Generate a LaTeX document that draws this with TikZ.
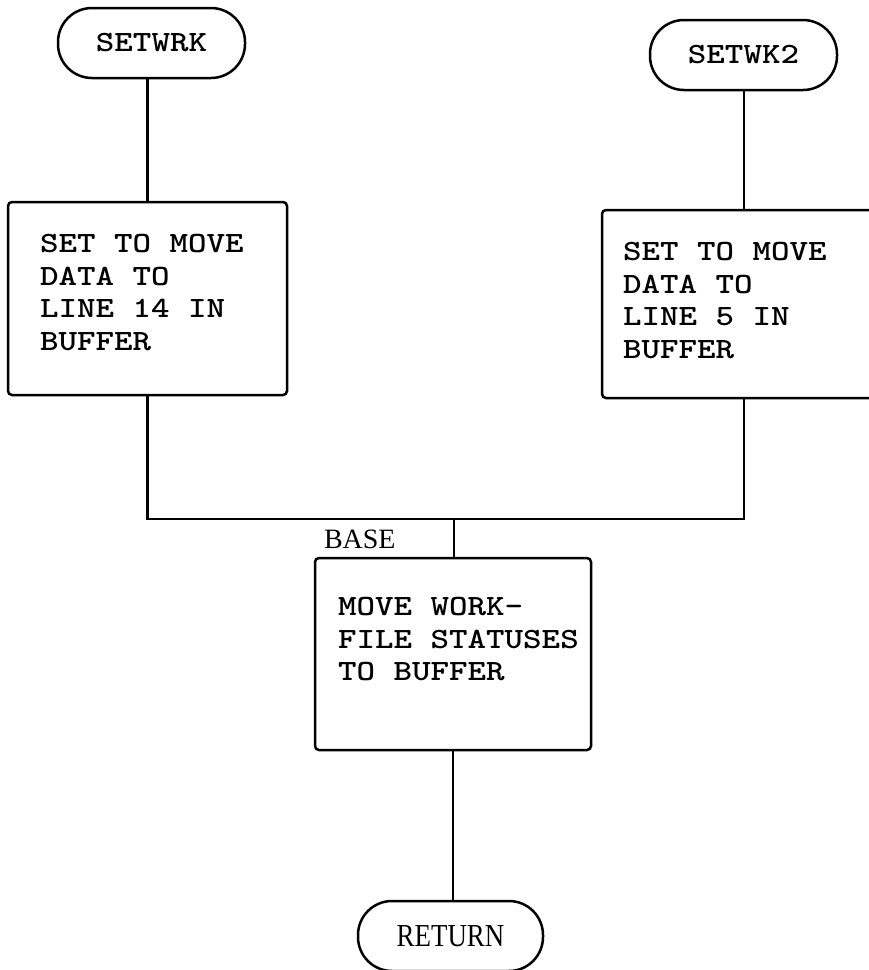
\documentclass[tikz,border=0pt]{standalone}
\usepackage{graphicx}
\usepackage{fontspec}
\newfontfamily\seriffnt{Liberation Serif}
\newcommand{\twfont}{\ttfamily\bfseries\fontsize{29.4}{32.8}\selectfont}
\newcommand{\tw}[1]{\scalebox{1.2}[1]{#1}}
\begin{document}
\begin{tikzpicture}[x=1pt,y=-1pt,
  every node/.style={inner sep=0pt, outer sep=0pt},
  pill/.style={draw, line width=2.5pt, rounded corners=34pt, minimum width=187pt, minimum height=70pt},
  procbox/.style={draw, line width=2.5pt, rounded corners=4pt},
  boxtxt/.style={anchor=north west, align=left, font=\twfont},
  conn/.style={line width=2.5pt}
]
\fill[white] (0,0) rectangle (869,970);
\useasboundingbox (0,0) rectangle (869,970);

% terminals
\node[pill, font=\twfont] (setwrk) at (151.5,43) {\tw{SETWRK}};
\node[pill, font=\twfont] (setwk2) at (743.5,55) {\tw{SETWK2}};
\node[pill, minimum width=185pt, font=\seriffnt\fontsize{32}{34}\selectfont] (ret) at (450.5,936) {\scalebox{0.84}[1]{RETURN}};

% process boxes
\node[procbox, minimum width=279pt, minimum height=193pt] (bl) at (147.5,298.5) {};
\node[procbox, minimum width=284pt, minimum height=188pt] (br) at (744,304) {};
\node[procbox, minimum width=276pt, minimum height=192pt] (bm) at (453,654) {};

% box texts
\node[boxtxt] (tl) at (40,234) {\tw{SET TO MOVE}\\\tw{DATA TO}\\\tw{LINE 14 IN}\\\tw{BUFFER}};
\node[boxtxt] (tr) at (623,242) {\tw{SET TO MOVE}\\\tw{DATA TO}\\\tw{LINE 5 IN}\\\tw{BUFFER}};
\node[boxtxt] (tm) at (338,597) {\tw{MOVE WORK-}\\\tw{FILE STATUSES}\\\tw{TO BUFFER}};

% BASE label
\node[anchor=base west, font=\seriffnt\fontsize{28}{30}\selectfont] (baselbl) at (324,548) {BASE};

% join coordinate
\coordinate (j) at (454,519);

% connectors
\draw[conn] (bl.north |- setwrk.south) -- (bl.north);
\draw[conn] (br.north |- setwk2.south) -- (br.north);
\draw[conn] (bl.south) -- (bl.south |- j) -- (br.south |- j) -- (br.south);
\draw[conn] (j) -- (j |- bm.north);
\draw[conn] (bm.south) -- (bm.south |- ret.north);
\end{tikzpicture}
\end{document}
